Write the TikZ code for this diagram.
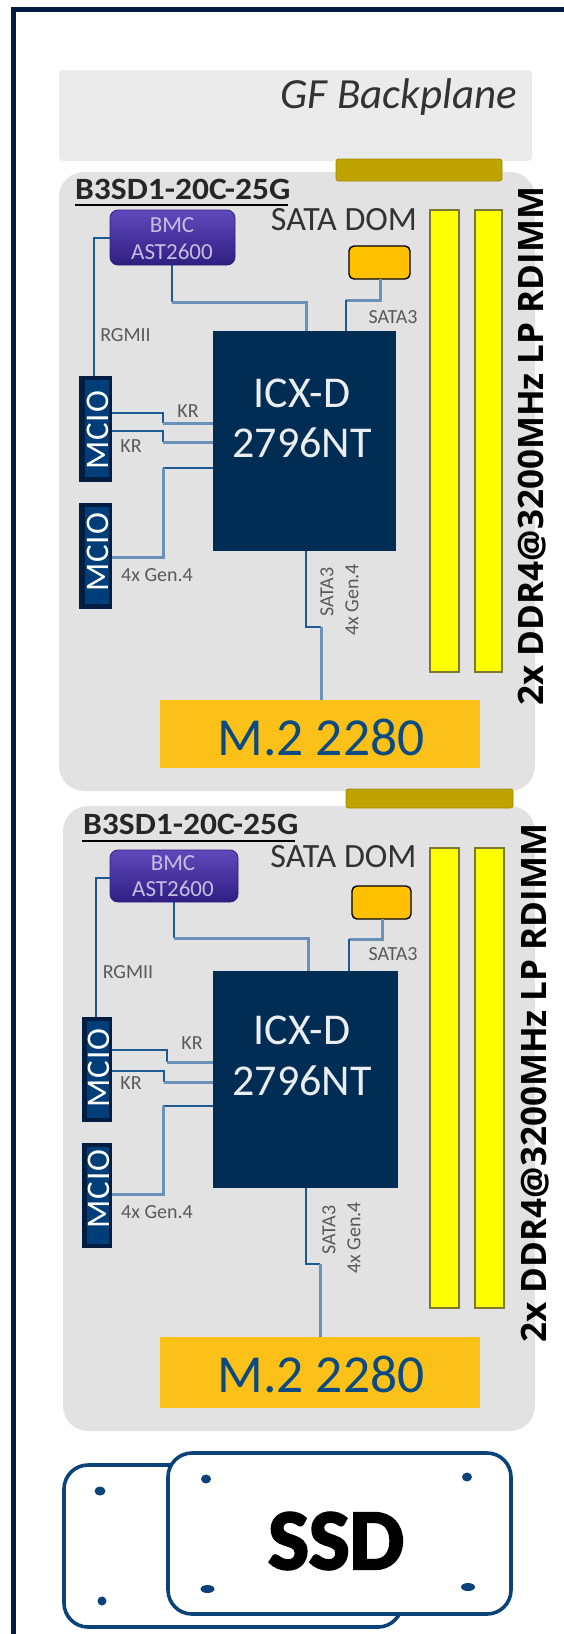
\documentclass[tikz,border=0pt]{standalone}
\usepackage{fontspec}
\setmainfont{Carlito}
\newfontfamily\ddrfont{Open Sans}
\newfontfamily\ssdfont[FakeBold=3]{Carlito Bold}
\newfontfamily\ttlfont[FakeStretch=1.08]{Carlito Bold}
\newfontfamily\mciofont[LetterSpace=3]{Carlito}
\newcommand{\fs}[1]{\fontsize{#1}{#1}\selectfont}
% \rbox{name}{x1}{y1}{x2}{y2}{style}{text}
\newcommand{\rbox}[7]{%
  \pgfmathsetmacro{\rw}{#4-#2}\pgfmathsetmacro{\rh}{#5-#3}%
  \pgfmathsetmacro{\rx}{(#2+#4)/2}\pgfmathsetmacro{\ry}{(#3+#5)/2}%
  \node[#6,minimum width=\rw pt,minimum height=\rh pt,inner sep=0pt,outer sep=0pt] (#1) at (\rx,\ry) {#7};}
\definecolor{navy}{HTML}{012D55}
\definecolor{framec}{HTML}{021D3F}
\definecolor{wired}{HTML}{1D5A93}
\definecolor{wirel}{HTML}{6A92B8}
\definecolor{pure}{HTML}{FFFF00}
\definecolor{panelc}{HTML}{E2E2E2}
\definecolor{backc}{HTML}{EBEBEB}
\tikzset{
  panel/.style={fill=panelc,draw=none,rounded corners=25pt},
  backpl/.style={fill=backc,draw=none,rounded corners=4pt},
  goldbar/.style={fill=goldc,draw=goldc!85!black,line width=.8pt,rounded corners=2.5pt},
  bmcbox/.style={top color=bmct,middle color=bmcm,bottom color=bmcb,draw=bmcb,line width=.8pt,rounded corners=8pt},
  dombox/.style={fill=domc,draw=black,line width=1.4pt,rounded corners=5pt},
  dimm/.style={fill=pure,draw=dimmc,line width=1.2pt},
  cpubox/.style={fill=navy},
  mcio/.style={fill=framec},
  mcioin/.style={fill=mcioc},
  mtwo/.style={fill=mtwoc},
  wd/.style={draw=wired,line width=2pt},
  wl/.style={draw=wirel,line width=3pt},
  lab/.style={text=black!65,font=\fs{20}},
  mciotxt/.style={text=white,font=\mciofont\fs{33},rotate=90,inner sep=0pt},
  cputxt/.style={text=white!92!navy,font=\fs{44},inner sep=0pt},
  bmctxt/.style={text=bmctext,font=\fs{23},inner sep=0pt},
  ddr/.style={font=\ddrfont\bfseries\fs{35},rotate=90,inner sep=0pt},
  ttl/.style={font=\ttlfont\fs{31},text=black!85,anchor=west,inner sep=0pt},
  ssdc/.style={fill=white,draw=ssdl,line width=3.6pt,rounded corners=24pt},
  hole/.style={fill=ssdl,draw=none,ellipse,inner sep=0pt,minimum height=9pt,minimum width=#1},
}
\definecolor{goldc}{HTML}{BFA400}
\definecolor{bmct}{HTML}{6049BC}
\definecolor{bmcm}{HTML}{3B2898}
\definecolor{bmcb}{HTML}{2F1F82}
\definecolor{bmctext}{HTML}{C4BEE2}
\definecolor{domc}{HTML}{FFC000}
\definecolor{dimmc}{HTML}{7A7A30}
\definecolor{mcioc}{HTML}{003E7A}
\definecolor{mtwoc}{HTML}{FBC118}
\definecolor{mtwot}{HTML}{0B4A82}
\definecolor{ssdl}{HTML}{0B4378}
\usetikzlibrary{shapes.geometric}
\begin{document}
\begin{tikzpicture}[x=1pt,y=-1pt]
\useasboundingbox (0,0) rectangle (564,1634);
\fill[white] (0,0) rectangle (564,1634);
% outer frame (open to the right and below)
\coordinate (fa) at (13.5,1634);
\coordinate (fb) at (13.5,9.5);
\coordinate (fc) at (564,9.5);
\draw[framec,line width=5pt] (fa) -- (fb) -- (fc);
% backplane
\rbox{gf}{59}{70}{532}{161}{backpl}{}
\node[font=\itshape\fs{43},text=black!80,anchor=east,inner sep=0pt] (gftxt) at (517,97) {GF Backplane};

% ---------- board 1
\rbox{board1}{59}{172}{535}{791}{panel}{}
\rbox{bar1}{336}{159}{502}{181}{goldbar}{}
\node[ttl] (t1) at (75,189) {B3SD1-20C-25G};
\coordinate (t1a) at (75,205); \coordinate (t1b) at (288,205);
\draw[black,line width=1.5pt] (t1a) -- (t1b);
\rbox{bmc1}{110}{210}{235}{265}{bmcbox}{}
\node[bmctxt] (bmc1a) at (172,225) {BMC};
\node[bmctxt] (bmc1b) at (172,252) {AST2600};
\node[font=\fs{34},text=black!80,inner sep=0pt] (dom1t) at (344,220) {SATA DOM};
\rbox{dom1}{349}{246}{410}{279}{dombox}{}
\rbox{d1a}{430}{210}{459}{672}{dimm}{}
\rbox{d1b}{475}{210}{502}{672}{dimm}{}
\rbox{cpu1}{213}{331}{396}{551}{cpubox}{}
\node[cputxt] (cpu1a) at (302,393) {ICX-D};
\node[cputxt] (cpu1b) at (302,443) {2796NT};
\rbox{m1a}{79}{376}{112}{482}{mcio}{}
\rbox{m1ai}{85}{380}{109}{477}{mcioin}{}
\node[mciotxt] (m1at) at (97.5,430.5) {MCIO};
\rbox{m1b}{79}{503}{112}{609}{mcio}{}
\rbox{m1bi}{85}{507}{109}{604}{mcioin}{}
\node[mciotxt] (m1bt) at (97.5,552.5) {MCIO};
\rbox{m21}{160}{700}{480}{768}{mtwo}{}
\node[text=mtwot,font=\fs{53.5},inner sep=0pt] (m21t) at (321,737) {M.2 2280};
\node[ddr] (ddr1) at (532,446) {2x DDR4@3200MHz LP RDIMM};
% wires
\draw[wd] (bmc1.west |- 0,238) -| (93.5,300);
\draw[wd] (93.5,300) -- (m1a.north -| 93.5,0);
\draw[wd] (bmc1.south -| 172,0) -- (172,302);
\draw[wl] (172,302) -| (cpu1.north -| 306,0);
\draw[wl] (dom1.south -| 380,0) |- (346,300);
\draw[wd] (346,300) -- (cpu1.north -| 346,0);
\draw[wd] (m1a.east |- 0,413) -| (163,423);
\draw[wl] (163,423) -- (cpu1.west |- 0,423);
\draw[wd] (m1a.east |- 0,431) -| (163,442);
\draw[wl] (163,442) -- (cpu1.west |- 0,442);
\draw[wd] (cpu1.west |- 0,468) -- (163,468);
\draw[wl] (163,468) |- (m1b.east |- 0,557);
\draw[wd] (cpu1.south -| 306,0) |- (321,627);
\draw[wl] (321,627) -- (m21.north -| 321,0);
% labels
\node[lab] (l1a) at (125.5,335) {RGMII};
\node[lab] (l1b) at (393,317) {SATA3};
\node[lab] (l1c) at (188,411) {KR};
\node[lab] (l1d) at (131,446) {KR};
\node[lab] (l1e) at (157,575) {4x Gen.4};
\node[lab,rotate=90] (l1f) at (327,592) {SATA3};
\node[lab,rotate=90] (l1g) at (352,600) {4x Gen.4};

% ---------- board 2
\rbox{board2}{63}{806}{535}{1431}{panel}{}
\rbox{bar2}{346}{789}{513}{808}{goldbar}{}
\node[ttl] (t2) at (83,824) {B3SD1-20C-25G};
\coordinate (t2a) at (82,841); \coordinate (t2b) at (295,841);
\draw[black,line width=1.5pt] (t2a) -- (t2b);
\rbox{bmc2}{110}{850}{238}{902}{bmcbox}{}
\node[bmctxt] (bmc2a) at (173,863) {BMC};
\node[bmctxt] (bmc2b) at (173,889) {AST2600};
\node[font=\fs{34},text=black!80,inner sep=0pt] (dom2t) at (343.5,857) {SATA DOM};
\rbox{dom2}{352}{886}{411}{919}{dombox}{}
\rbox{d2a}{430}{848}{459}{1308}{dimm}{}
\rbox{d2b}{475}{848}{504}{1308}{dimm}{}
\rbox{cpu2}{213}{971}{398}{1188}{cpubox}{}
\node[cputxt] (cpu2a) at (302,1030) {ICX-D};
\node[cputxt] (cpu2b) at (302,1081) {2796NT};
\rbox{m2a}{82}{1017}{112}{1122}{mcio}{}
\rbox{m2ai}{87}{1021}{109}{1118}{mcioin}{}
\node[mciotxt] (m2at) at (98.5,1068) {MCIO};
\rbox{m2b}{82}{1143}{112}{1248}{mcio}{}
\rbox{m2bi}{87}{1147}{109}{1244}{mcioin}{}
\node[mciotxt] (m2bt) at (98.5,1189) {MCIO};
\rbox{m22}{160}{1337}{480}{1408}{mtwo}{}
\node[text=mtwot,font=\fs{53.5},inner sep=0pt] (m22t) at (321,1374) {M.2 2280};
\node[ddr] (ddr2) at (535,1083) {2x DDR4@3200MHz LP RDIMM};
% wires
\draw[wd] (bmc2.west |- 0,878) -| (96,950);
\draw[wd] (96,950) -- (m2a.north -| 96,0);
\draw[wd] (bmc2.south -| 174,0) -- (174,938);
\draw[wl] (174,938) -| (cpu2.north -| 308,0);
\draw[wl] (dom2.south -| 382,0) |- (349,939);
\draw[wd] (349,939) -- (cpu2.north -| 349,0);
\draw[wd] (m2a.east |- 0,1050) -| (167,1062);
\draw[wl] (167,1062) -- (cpu2.west |- 0,1062);
\draw[wd] (m2a.east |- 0,1071) -| (164,1082);
\draw[wl] (164,1082) -- (cpu2.west |- 0,1082);
\draw[wd] (cpu2.west |- 0,1106) -- (163,1106);
\draw[wl] (163,1106) |- (m2b.east |- 0,1194);
\draw[wd] (cpu2.south -| 306,0) |- (320,1264);
\draw[wl] (320,1264) -- (m22.north -| 320,0);
% labels
\node[lab] (l2a) at (128,972) {RGMII};
\node[lab] (l2b) at (393,954) {SATA3};
\node[lab] (l2c) at (192,1043) {KR};
\node[lab] (l2d) at (131,1083) {KR};
\node[lab] (l2e) at (157,1212) {4x Gen.4};
\node[lab,rotate=90] (l2f) at (329,1230) {SATA3};
\node[lab,rotate=90] (l2g) at (354,1238) {4x Gen.4};

% ---------- SSD
\rbox{ssdb}{64}{1465}{402}{1627}{ssdc}{}
\rbox{ssdf}{168}{1453}{511}{1614}{ssdc}{}
\node[hole=11pt] (h1) at (100,1491) {};
\node[hole=9pt] (h2) at (102,1601) {};
\node[hole=10pt] (h3) at (206,1479) {};
\node[hole=10pt] (h4) at (467,1477) {};
\node[hole=14pt,minimum height=8pt] (h5) at (207.5,1589) {};
\node[hole=14pt,minimum height=8pt] (h6) at (468,1587) {};
\node[font=\ssdfont\fs{86},inner sep=0pt] (ssdt) at (336,1541) {SSD};
\end{tikzpicture}
\end{document}
